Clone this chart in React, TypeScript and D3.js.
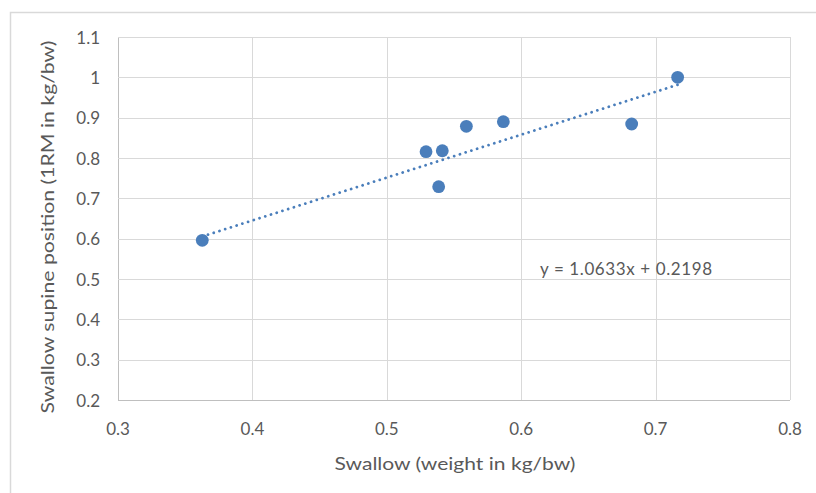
import React, { useEffect, useRef } from 'react';
import * as d3 from 'd3';

// values
const xValues = [0.3627, 0.5292, 0.5413, 0.5386, 0.5592, 0.5867, 0.6822, 0.7164];
const yValues = [0.596, 0.8156, 0.818, 0.7288, 0.8786, 0.89, 0.8843, 1.0];
const xTicks = [0.3, 0.4, 0.5, 0.6, 0.7, 0.8];
const yTicks = [0.2, 0.3, 0.4, 0.5, 0.6, 0.7, 0.8, 0.9, 1.0, 1.1];
const slope = 1.0633;
const intercept = 0.2198;
const xTitle = 'Swallow (weight in kg/bw)';
const yTitle = 'Swallow supine position (1RM in kg/bw)';
const equation = 'y = 1.0633x + 0.2198';

const W = 816;
const H = 493;
const FONT = 'Lato, "Open Sans", sans-serif';
const BLUE = '#4a7ebb';

const App: React.FC = () => {
  const svgRef = useRef<SVGSVGElement>(null);

  useEffect(() => {
    const svg = d3.select(svgRef.current);
    svg.selectAll('*').remove();

    const margin = { top: 37, right: 26, bottom: 93, left: 118 };
    const x = d3.scaleLinear().domain([0.3, 0.8]).range([margin.left, W - margin.right]);
    const y = d3.scaleLinear().domain([0.2, 1.1]).range([H - margin.bottom, margin.top]);

    // frame of the chart area
    svg.append('rect')
      .attr('x', 10.5).attr('y', 12.5)
      .attr('width', 900).attr('height', 900)
      .attr('fill', '#fff').attr('stroke', '#d9d9d9').attr('stroke-width', 1.5);

    // gridlines
    const grid = svg.append('g');
    grid.selectAll('.gx')
      .data(xTicks)
      .enter()
      .append('line')
      .attr('x1', d => Math.round(x(d)) + 0.5).attr('x2', d => Math.round(x(d)) + 0.5)
      .attr('y1', y(0.2)).attr('y2', y(1.1))
      .attr('stroke', d => (d === 0.3 ? '#bfbfbf' : '#d9d9d9'));
    grid.selectAll('.gy')
      .data(yTicks)
      .enter()
      .append('line')
      .attr('x1', x(0.3)).attr('x2', x(0.8))
      .attr('y1', d => Math.round(y(d)) + 0.5).attr('y2', d => Math.round(y(d)) + 0.5)
      .attr('stroke', d => (d === 0.2 ? '#bfbfbf' : '#d9d9d9'));

    // tick labels
    svg.append('g').selectAll('text')
      .data(xTicks)
      .enter()
      .append('text')
      .attr('x', d => x(d))
      .attr('y', y(0.2) + 35)
      .attr('text-anchor', 'middle')
      .attr('font-family', FONT).attr('font-size', 17).attr('fill', '#595959')
      .text(d => d3.format('.1f')(d));

    svg.append('g').selectAll('text')
      .data(yTicks)
      .enter()
      .append('text')
      .attr('x', 100)
      .attr('y', d => y(d) + 6.5)
      .attr('text-anchor', 'end')
      .attr('font-family', FONT).attr('font-size', 17).attr('fill', '#595959')
      .text(d => (d === 1 ? '1' : d3.format('.1f')(d)));

    // axis titles
    svg.append('text')
      .attr('x', 455).attr('y', 470)
      .attr('text-anchor', 'middle')
      .attr('font-family', FONT).attr('font-size', 18).attr('fill', '#595959')
      .attr('textLength', 241).attr('lengthAdjust', 'spacingAndGlyphs')
      .text(xTitle);

    svg.append('text')
      .attr('transform', 'translate(54,227) rotate(-90)')
      .attr('text-anchor', 'middle')
      .attr('font-family', FONT).attr('font-size', 18).attr('fill', '#595959')
      .attr('textLength', 373).attr('lengthAdjust', 'spacingAndGlyphs')
      .text(yTitle);

    // trendline
    const [x0, x1] = d3.extent(xValues) as [number, number];
    const line = d3.line<number>().x(d => x(d)).y(d => y(slope * d + intercept));
    svg.append('path')
      .attr('d', line([x0, x1]))
      .attr('fill', 'none')
      .attr('stroke', BLUE)
      .attr('stroke-width', 2.8)
      .attr('stroke-linecap', 'round')
      .attr('stroke-dasharray', '0.01 6');

    // points
    svg.append('g').selectAll('circle')
      .data(xValues.map((v, i) => [v, yValues[i]]))
      .enter()
      .append('circle')
      .attr('cx', d => x(d[0]))
      .attr('cy', d => y(d[1]))
      .attr('r', 6.4)
      .attr('fill', BLUE);

    // equation label
    svg.append('text')
      .attr('x', 540).attr('y', 275)
      .attr('font-family', FONT).attr('font-size', 17).attr('fill', '#595959')
      .attr('textLength', 172).attr('lengthAdjust', 'spacing')
      .text(equation);
  }, []);

  return (
    <svg
      ref={svgRef}
      width={W}
      height={H}
      style={{ position: 'absolute', left: 0, top: 0, background: '#fff' }}
    />
  );
};

export default App;
